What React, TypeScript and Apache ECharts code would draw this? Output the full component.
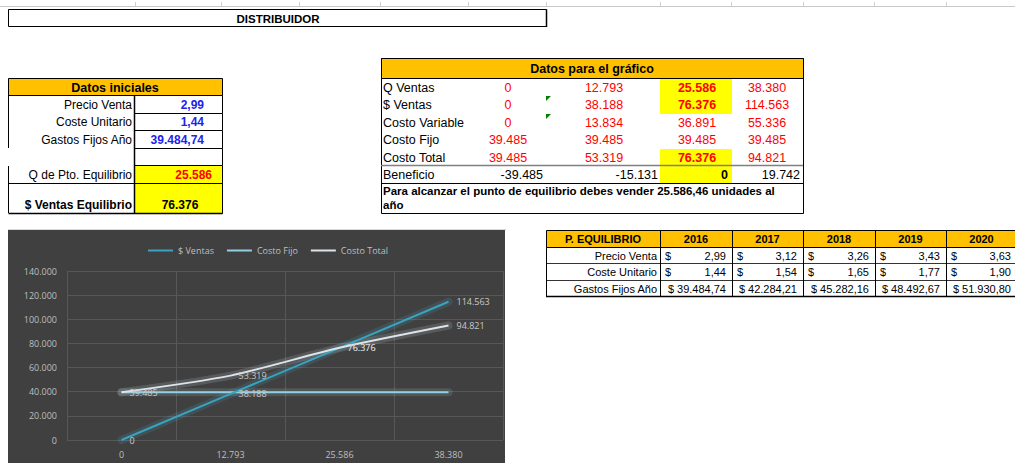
import React, { useEffect, useRef } from "react";
import * as echarts from "echarts";

// ---- chart data ----
const categories = ["0", "12.793", "25.586", "38.380"];
const ventas = [0, 38188, 76376, 114563];
const costoFijo = [39485, 39485, 39485, 39485];
const costoTotal = [39485, 53319, 76376, 94821];
const costoVariable = [0, 13834, 36891, 55336];
const beneficio = [-39485, -15131, 0, 19742];
const yTicks = { min: 0, max: 140000, step: 20000 };

// ---- sheet data ----
const iniLabels = ["Precio Venta", "Coste Unitario", "Gastos Fijos Año", "", "Q de Pto. Equilibrio", "$ Ventas Equilibrio"];
const iniValues = ["2,99", "1,44", "39.484,74", "", "25.586", "76.376"];
const years = ["2016", "2017", "2018", "2019", "2020"];
const precioVenta = ["2,99", "3,12", "3,26", "3,43", "3,63"];
const costeUnitario = ["1,44", "1,54", "1,65", "1,77", "1,90"];
const gastosFijos = ["39.484,74", "42.284,21", "45.282,16", "48.492,67", "51.930,80"];
const nota = ["Para alcanzar el punto de equilibrio debes vender 25.586,46 unidades al", "año"];

const fmt = (v: number) => {
  const s = Math.abs(Math.round(v)).toString().replace(/\B(?=(\d{3})+(?!\d))/g, ".");
  return (v < 0 ? "-" : "") + s;
};

const AR = '"Liberation Sans", Arial, sans-serif';
const ORANGE = "#FFC000";
const YELLOW = "#FFFF00";

function T(text: string, x: number, y: number, o: any = {}) {
  return {
    type: "text",
    x,
    y,
    silent: true,
    z: 20,
    style: {
      text,
      fill: o.fill || "#000",
      font: `${o.bold ? "bold " : ""}${o.size || 12}px ${AR}`,
      textAlign: o.align || "left",
      textVerticalAlign: "middle",
    },
  };
}
function R(x: number, y: number, w: number, h: number, fill: string, stroke?: string, lw = 1, z = 5) {
  return {
    type: "rect",
    silent: true,
    z,
    shape: { x, y, width: w, height: h },
    style: { fill, stroke: stroke || null, lineWidth: stroke ? lw : 0 },
  };
}
function L(x1: number, y1: number, x2: number, y2: number, stroke = "#000", lw = 1) {
  return { type: "line", silent: true, z: 10, shape: { x1, y1, x2, y2 }, style: { stroke, lineWidth: lw } };
}

function buildSheet() {
  const els: any[] = [];
  // top spreadsheet line
  els.push(L(0, 6.5, 1015, 6.5, "#c8c8c8", 1));
  [135, 221, 299, 380, 468, 546, 660, 731, 803, 874, 946].forEach((x) => els.push(L(x + 0.5, 2, x + 0.5, 6, "#d0d0d0", 1)));
  // title
  els.push(R(8.5, 9.5, 538, 17, "#fff", "#000", 1));
  els.push(L(546.5, 9.5, 546.5, 27, "#000", 1.5));
  els.push(T("DISTRIBUIDOR", 278, 18.5, { bold: true, size: 11.5, align: "center" }));

  // ---- Datos iniciales ----
  els.push(R(8.5, 78.5, 214, 17, ORANGE, "#000", 1));
  els.push(T("Datos iniciales", 115, 87.5, { bold: true, size: 12.5, align: "center" }));
  const rb = [95, 113, 130, 148, 165, 183, 213];
  for (let i = 0; i < 6; i++) {
    const y0 = rb[i], y1 = rb[i + 1];
    const fill = i >= 4 ? YELLOW : "#fff";
    els.push(R(134.5, y0 + 0.5, 88, y1 - y0, fill, "#000", 1));
    const ty = i === 5 ? 205 : (y0 + y1) / 2 + 0.5;
    if (iniLabels[i]) els.push(T(iniLabels[i], 132, ty, { size: 12, bold: i === 5, align: "right" }));
    if (iniValues[i]) {
      if (i < 3) els.push(T(iniValues[i], 204, ty, { size: 12, bold: true, fill: "#2222ee", align: "right" }));
      else if (i === 4) els.push(T(iniValues[i], 212, ty, { size: 12, bold: true, fill: "#ff0000", align: "right" }));
      else els.push(T(iniValues[i], 180, ty, { size: 12, bold: true, align: "center" }));
    }
  }
  els.push(L(8.5, 95, 8.5, 148, "#000", 1));
  els.push(L(8.5, 166, 8.5, 213, "#000", 1));
  els.push(L(8.5, 183.5, 222.5, 183.5, "#000", 1));
  els.push(L(8.5, 213.5, 222.5, 213.5, "#000", 1.5));
  els.push(L(134.5, 95, 134.5, 214, "#000", 1.5));

  // ---- Datos para el gráfico ----
  els.push(R(381.5, 58.5, 422, 155, "#fff", "#000", 1, 4));
  els.push(R(381.5, 58.5, 422, 20, ORANGE, "#000", 1));
  els.push(T("Datos para el gráfico", 592, 68.5, { bold: true, size: 12.5, align: "center" }));
  els.push(R(660, 79, 72, 35, YELLOW));
  els.push(R(660, 149, 72, 34, YELLOW));
  const rowLabels = ["Q Ventas", "$ Ventas", "Costo Variable", "Costo Fijo", "Costo Total"];
  const rowData = [categories, ventas.map(fmt), costoVariable.map(fmt), costoFijo.map(fmt), costoTotal.map(fmt)];
  const rowY = [87.5, 105, 122.5, 140, 157.5];
  const colX = [508, 604, 697, 767];
  rowLabels.forEach((lab, r) => {
    els.push(T(lab, 383, rowY[r], { size: 12.5 }));
    rowData[r].forEach((v, c) => {
      const bold = c === 2 && (r === 0 || r === 1 || r === 4);
      els.push(T(v, colX[c], rowY[r], { size: 12.5, fill: "#ff0000", bold, align: "center" }));
    });
  });
  els.push(L(381, 165.5, 803, 165.5, "#808080", 1.5));
  els.push(L(381, 183.5, 803, 183.5, "#000", 1));
  els.push(T("Beneficio", 383, 174.5, { size: 12.5 }));
  const benX = [543, 658, 728, 800];
  beneficio.forEach((v, c) => els.push(T(fmt(v), benX[c], 174.5, { size: 12.5, bold: c === 2, align: "right" })));
  els.push(T(nota[0], 383, 191, { size: 11.5, bold: true }));
  els.push(T(nota[1], 383, 204.5, { size: 11.5, bold: true }));
  [96, 114].forEach((y) =>
    els.push({ type: "polygon", silent: true, z: 12, shape: { points: [[546, y], [551, y], [546, y + 5]] }, style: { fill: "#008000" } })
  );

  // ---- P. EQUILIBRIO ----
  const cx = [546, 660, 732, 803, 875, 946, 1017];
  const ry = [230, 247, 263, 280, 296];
  els.push(R(546.5, 230.5, 472, 17, ORANGE, "#000", 1));
  els.push(R(546.5, 247.5, 472, 49, "#fff", "#000", 1, 4));
  els.push(T("P. EQUILIBRIO", 603, 239, { bold: true, size: 11, align: "center" }));
  years.forEach((y, i) => els.push(T(y, (cx[i + 1] + cx[i + 2]) / 2, 239, { bold: true, size: 11, align: "center" })));
  for (let i = 1; i < cx.length - 1; i++) els.push(L(cx[i] + 0.5, 230, cx[i] + 0.5, 296.5, "#000", 1));
  [263, 280].forEach((y) => els.push(L(546, y + 0.5, 1015, y + 0.5, "#000", 0.8)));
  els.push(L(546, 296.5, 1015, 296.5, "#000", 1.3));
  const pLabels = ["Precio Venta", "Coste Unitario", "Gastos Fijos Año"];
  pLabels.forEach((lab, r) => els.push(T(lab, 657, (ry[r + 1] + ry[r + 2]) / 2 + 0.5, { size: 11, align: "right" })));
  years.forEach((_, i) => {
    const l = cx[i + 1], rr = cx[i + 2];
    const y1 = (ry[1] + ry[2]) / 2 + 0.5, y2 = (ry[2] + ry[3]) / 2 + 0.5, y3 = (ry[3] + ry[4]) / 2 + 0.5;
    els.push(T("$", l + 5, y1, { size: 11 }));
    els.push(T(precioVenta[i], rr - 6, y1, { size: 11, align: "right" }));
    els.push(T("$", l + 5, y2, { size: 11 }));
    els.push(T(costeUnitario[i], rr - 6, y2, { size: 11, align: "right" }));
    els.push(T("$ " + gastosFijos[i], rr - 6, y3, { size: 11, align: "right" }));
  });

  // ---- chart background ----
  els.push(R(8, 230, 497, 240, "#404040", null as any, 0, -10));
  els.push(L(8, 229.5, 506, 229.5, "#d9d9d9", 1));
  return els;
}

const glow = (data: number[], color: string, smooth: number | boolean, z: number) => ({
  type: "line",
  data,
  smooth,
  symbol: "none",
  silent: true,
  lineStyle: { color, width: 8, opacity: 0.15, cap: "round" },
  z,
});

export default function App() {
  const ref = useRef<HTMLDivElement>(null);
  useEffect(() => {
    if (!ref.current) return;
    const chart = echarts.init(ref.current, undefined, { renderer: "svg" });
    const labelStyle = {
      show: true,
      position: "right",
      distance: 8,
      color: "#c9c9c9",
      fontSize: 9,
      fontFamily: "Open Sans",
      formatter: (p: any) => fmt(p.value),
    };
    chart.setOption({
      animation: false,
      textStyle: { fontFamily: "Open Sans" },
      graphic: { elements: buildSheet() },
      legend: {
        left: 143,
        top: 241,
        icon: "rect",
        itemWidth: 25,
        itemHeight: 2,
        itemGap: 13,
        textStyle: { color: "#bfbfbf", fontSize: 9, fontFamily: "Open Sans" },
        data: ["$ Ventas", "Costo Fijo", "Costo Total"],
      },
      grid: { left: 67, right: 512, top: 271, bottom: 23, containLabel: false },
      xAxis: {
        type: "category",
        data: categories,
        boundaryGap: true,
        axisLine: { show: false },
        axisTick: { show: false },
        axisLabel: { color: "#bfbfbf", fontSize: 9, margin: 10, fontFamily: "Open Sans" },
        splitLine: { show: true, lineStyle: { color: "#575757", width: 1 } },
      },
      yAxis: {
        type: "value",
        min: yTicks.min,
        max: yTicks.max,
        interval: yTicks.step,
        axisLine: { show: false },
        axisTick: { show: false },
        axisLabel: { color: "#bfbfbf", fontSize: 9, margin: 10, fontFamily: "Open Sans", formatter: (v: number) => fmt(v) },
        splitLine: { show: true, lineStyle: { color: "#575757", width: 1 } },
      },
      series: [
        glow(costoFijo, "#a8dcec", false, 1),
        glow(ventas, "#4bb4d0", false, 1),
        glow(costoTotal, "#e6eef2", 0.25, 1),
        {
          name: "$ Ventas",
          type: "line",
          data: ventas,
          symbol: "circle",
          symbolSize: 0,
          itemStyle: { color: "#3aa3c0" },
          lineStyle: { color: "#3aa3c0", width: 2 },
          label: labelStyle,
          z: 3,
        },
        {
          name: "Costo Fijo",
          type: "line",
          data: costoFijo,
          symbol: "circle",
          symbolSize: 0,
          itemStyle: { color: "#93cfe2" },
          lineStyle: { color: "#93cfe2", width: 2 },
          label: { show: false },
          z: 2,
        },
        {
          name: "Costo Total",
          type: "line",
          data: costoTotal,
          smooth: 0.25,
          symbol: "circle",
          symbolSize: 0,
          itemStyle: { color: "#dbe4ea" },
          lineStyle: { color: "#dbe4ea", width: 2 },
          label: labelStyle,
          z: 4,
        },
      ],
    });
    return () => chart.dispose();
  }, []);
  return <div ref={ref} style={{ position: "fixed", left: 0, top: 0, width: 1015, height: 463, background: "#fff" }} />;
}
